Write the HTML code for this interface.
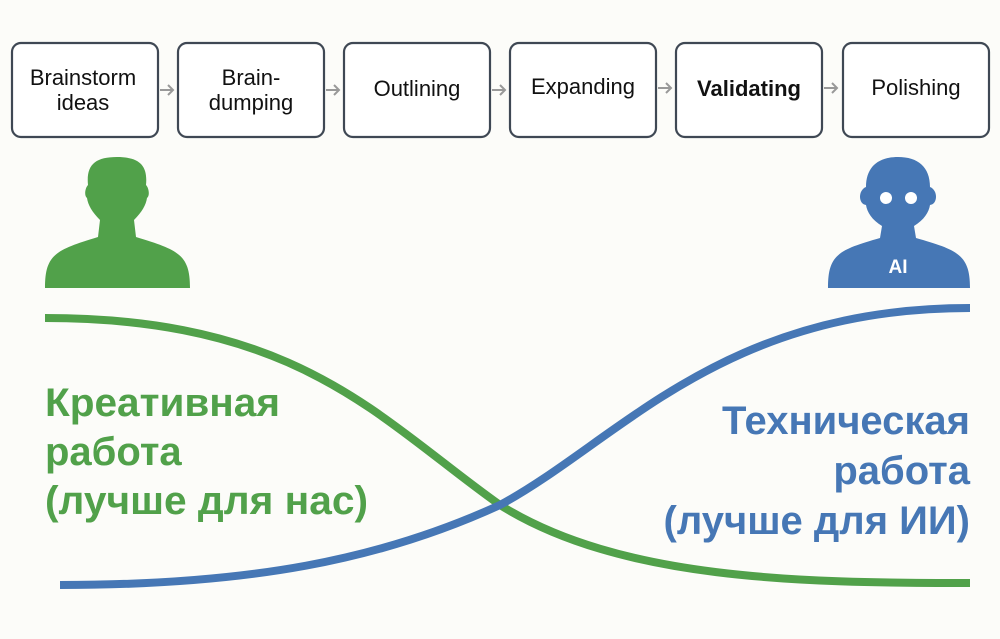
<!DOCTYPE html>
<html><head><meta charset="utf-8"><style>
body{margin:0;background:#fcfcf9;width:1000px;height:634px;overflow:hidden;font-family:"Liberation Sans",sans-serif}
</style></head><body>
<svg width="1000" height="634" viewBox="0 0 1000 634">
<rect width="1000" height="634" fill="#fcfcf9"/>
<g fill="#fff" stroke="#3f4854" stroke-width="2.2">
<rect x="12" y="43" width="146" height="94" rx="9"/>
<rect x="178" y="43" width="146" height="94" rx="9"/>
<rect x="344" y="43" width="146" height="94" rx="9"/>
<rect x="510" y="43" width="146" height="94" rx="9"/>
<rect x="676" y="43" width="146" height="94" rx="9"/>
<rect x="843" y="43" width="146" height="94" rx="9"/>
</g>
<g stroke="#999" stroke-width="2" fill="none">
<path d="M160 90h13M168 85l5 5-5 5"/>
<path d="M326 90h13M334 85l5 5-5 5"/>
<path d="M492 90h13M500 85l5 5-5 5"/>
<path d="M658 88h13M666 83l5 5-5 5"/>
<path d="M824 88h13M832 83l5 5-5 5"/>
</g>
<g font-size="22" fill="#111" text-anchor="middle">
<text x="83" y="85">Brainstorm</text><text x="83" y="110">ideas</text>
<text x="251" y="85">Brain-</text><text x="251" y="110">dumping</text>
<text x="417" y="96">Outlining</text>
<text x="583" y="94">Expanding</text>
<text x="749" y="96" font-weight="bold">Validating</text>
<text x="916" y="95">Polishing</text>
</g>
<path fill="#51a14a" d="M45 288 C45 255 55 250 98 237 L100 220 C92 212 88 205 87 198 C84 196 85 188 88 185 C86 165 95 157 117 157 C139 157 148 165 146 185 C149 188 150 196 147 198 C146 205 142 212 134 220 L136 237 C179 250 190 255 190 288 Z"/>
<path fill="#4677b5" d="M828 288 C828 255 838 250 880 238 L882 226 C872 220 867 212 866 205 C858 204 858 190 866 187 C866 167 878 157 898 157 C918 157 930 167 930 187 C938 190 938 204 930 205 C929 212 924 220 914 226 L916 238 C958 250 970 255 970 288 Z"/>
<circle cx="886" cy="198" r="6" fill="#fff"/><circle cx="911" cy="198" r="6" fill="#fff"/>
<text x="898" y="273" fill="#fff" font-size="19" font-weight="bold" text-anchor="middle">AI</text>
<path d="M45 318 C300 318 380 420 500 505 C620 580 800 583 970 583" stroke="#51a14a" stroke-width="8" fill="none"/>
<path d="M60 585 C250 585 380 560 500 505 C620 440 720 308 970 308" stroke="#4677b5" stroke-width="8" fill="none"/>
<g font-size="40" font-weight="bold" fill="#51a14a">
<text x="45" y="416" textLength="235" lengthAdjust="spacingAndGlyphs">Креативная</text><text x="45" y="465">работа</text><text x="45" y="514" textLength="323" lengthAdjust="spacingAndGlyphs">(лучше для нас)</text>
</g>
<g font-size="40" font-weight="bold" fill="#4677b5" text-anchor="end">
<text x="970" y="434">Техническая</text><text x="970" y="484">работа</text><text x="970" y="534">(лучше для ИИ)</text>
</g>
</svg>
</body></html>
